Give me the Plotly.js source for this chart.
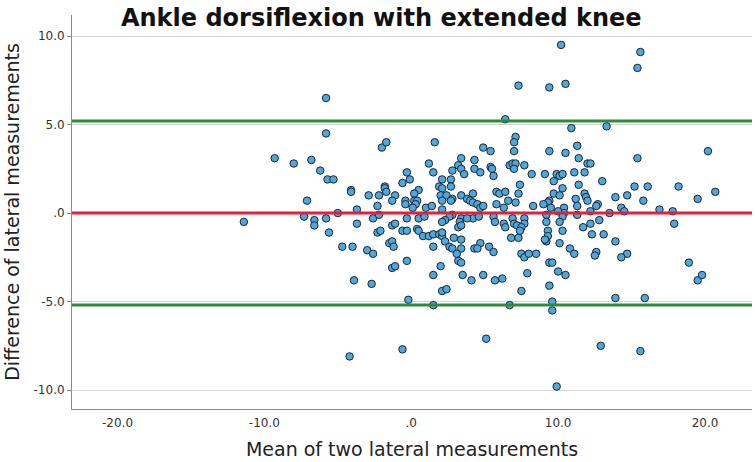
<!DOCTYPE html>
<html>
<head>
<meta charset="utf-8">
<script src="https://cdn.plot.ly/plotly-3.0.1.min.js"></script>
<style>html,body{margin:0;padding:0;background:#fff;}#chart{width:755px;height:462px;}</style>
</head>
<body>
<div id="chart"></div>
<script>
// Mean of two lateral measurements (x) and their difference (y)
const meanValues = [
-11.4,-9.3,-8.0,-6.8,-6.2,-5.7,-5.3,-7.1,-7.3,-6.6,-6.6,-5.8,-5.6,-5.0,-4.1,-4.1,-3.7,-3.7,-4.7,-4.0,
-3.0,-2.6,-3.9,-2.7,-2.9,-2.2,-2.3,-1.8,-1.8,-1.7,-1.1,-1.3,-0.6,-0.3,-0.1,-0.4,-0.4,-0.3,-2.6,-2.2,
-2.3,-2.1,-1.3,-1.1,-1.5,-1.3,-1.2,-0.6,-0.3,-0.3,-1.3,-1.1,-2.0,-5.8,-5.8,-1.7,-0.2,-4.2,-0.6,
10.2,7.3,9.4,10.5,6.4,10.9,7.1,7.0,1.6,4.9,5.4,7.0,9.4,10.5,11.3,3.4,4.3,15.6,15.4,13.3,11.4,15.4,20.2,
1.5,2.1,2.4,4.1,5.7,7.5,9.4,6.7,9.6,9.6,5.1,9.9,19.5,13.9,15.9,12.9,15.6,
12.0,12.2,11.1,11.8,13.0,11.4,11.8,11.9,11.2,12.0,11.3,12.7,12.6,13.9,14.7,15.2,16.1,15.8,18.2,19.5,
20.7,14.3,14.5,12.2,13.5,16.9,17.8,17.9,12.8,12.2,11.7,12.3,13.1,13.9,10.8,11.1,12.6,12.5,14.7,14.3,
18.9,19.8,
1.2,3.2,3.4,2.8,3.6,4.3,4.7,5.4,5.6,5.5,6.7,6.9,7.1,7.0,7.7,8.2,9.1,9.9,10.1,10.3,
9.7,1.5,2.1,2.7,1.9,2.1,2.7,7.4,10.3,0.5,0.2,2.0,2.4,2.8,3.4,4.2,5.8,6.0,6.4,7.3,
9.7,10.1,0.2,0.4,2.1,2.7,3.8,4.0,4.2,5.8,6.6,7.1,9.4,9.3,8.3,9.0,0.3,0.1,1.0,1.4,
2.1,4.5,4.7,4.9,6.3,9.5,10.4,10.4,10.0,9.2,10.3,11.3,2.8,2.6,4.2,4.6,5.6,3.4,3.8,0.5,
0.9,2.3,2.1,5.7,6.3,6.9,7.7,7.0,7.2,7.7,7.5,6.4,3.3,3.2,3.4,0.4,0.5,0.8,1.2,1.5,
1.9,2.1,2.1,2.3,2.9,3.4,4.7,4.3,4.5,5.3,5.6,2.6,2.8,3.4,3.1,1.5,6.8,7.3,7.4,9.2,
9.3,10.3,10.1,9.3,9.2,10.1,9.1,7.5,7.7,8.0,8.5,9.4,9.6,3.2,3.4,2.0,1.5,3.5,4.9,6.2,
7.9,10.0,10.5
];
const differenceValues = [
-0.5,3.1,2.8,3.0,2.4,1.9,1.9,0.7,-0.2,-0.4,-0.7,-0.3,-1.1,0.0,1.3,1.2,0.2,-0.6,-1.9,-1.9,
-2.1,-2.3,-3.8,-4.0,1.0,1.0,0.4,1.5,1.4,1.2,1.0,0.7,1.7,2.3,1.9,0.7,0.5,-0.3,-0.3,-0.1,
-1.1,-1.0,-0.7,-0.6,-1.7,-1.6,-1.9,-1.0,-1.0,-2.7,-3.1,-3.0,3.7,6.5,4.5,4.0,-4.9,-8.1,-7.7,
9.5,7.2,7.1,7.3,5.3,4.8,4.3,4.0,4.0,3.7,3.5,3.5,3.5,3.4,3.8,3.1,3.0,9.1,8.2,4.9,3.1,3.1,3.5,
-5.2,-4.4,-4.3,-3.8,-3.8,-4.4,-4.1,-5.2,-5.0,-5.5,-7.1,-9.8,-3.8,-4.8,-4.8,-7.5,-7.8,
2.8,2.8,2.3,2.3,1.8,1.6,1.1,0.9,0.8,0.7,0.4,0.5,0.4,0.9,1.0,1.5,1.5,0.7,1.5,0.8,
1.2,0.3,0.1,0.1,0.0,0.2,0.1,-0.6,-0.4,-0.6,-0.8,-1.2,-1.2,-1.6,-2.0,-2.3,-2.2,-2.4,-2.3,-2.5,
-2.8,-3.5,
2.8,2.7,2.5,2.4,2.2,2.5,2.3,2.6,2.1,2.5,2.7,2.8,2.8,2.5,2.7,2.2,2.2,2.2,2.1,2.2,
1.8,2.3,1.9,1.9,1.5,1.4,1.5,1.6,1.4,1.3,1.1,1.0,1.0,0.8,1.0,1.1,1.2,1.1,1.2,1.1,
1.1,1.0,0.7,0.7,0.7,0.7,0.8,0.7,0.6,0.5,0.7,0.6,0.7,0.6,0.4,0.5,0.5,0.3,0.3,0.4,
0.2,0.5,0.3,0.4,0.3,0.3,0.3,0.0,0.1,-0.1,-0.2,-0.1,-0.1,-0.2,-0.3,-0.2,-0.2,-0.3,-0.3,-0.3,
-0.2,-0.4,-0.5,-0.5,-0.6,-0.3,-0.3,-0.6,-0.7,-0.6,-0.8,-0.8,-0.5,-0.8,-0.7,-0.9,-1.0,-1.3,-1.3,-1.2,
-1.2,-1.3,-1.1,-1.6,-1.4,-1.5,-1.7,-2.0,-2.0,-1.9,-2.2,-1.9,-2.0,-2.0,-2.3,-1.9,-1.4,-1.4,-1.0,-0.5,
-1.0,-1.0,-0.5,-1.3,-1.6,-1.7,-1.5,-2.3,-2.5,-2.3,-2.3,-2.8,-2.8,-2.7,-2.8,-3.0,-3.5,-3.5,-3.5,-3.7,
-3.4,-3.3,-3.5
];
// Mean difference and limits of agreement
const meanDifference = 0.0;
const upperLimit = 5.2;
const lowerLimit = -5.2;
const xTickValues = [-20, -10, 0, 10, 20];
const xTickLabels = ["-20.0", "-10.0", ".0", "10.0", "20.0"];
const yTickValues = [-10, -5, 0, 5, 10];
const yTickLabels = ["-10.0", "-5.0", ".0", "5.0", "10.0"];

const font = "DejaVu Sans, Verdana, sans-serif";

const trace = {
  type: "scatter",
  mode: "markers",
  x: meanValues,
  y: differenceValues,
  marker: {size: 7.5, color: "#4ea8dd", line: {color: "#1c2530", width: 1}},
  hoverinfo: "x+y",
  showlegend: false
};

function hline(v, color) {
  return {type: "line", xref: "paper", x0: 0, x1: 1, yref: "y", y0: v, y1: v,
          line: {color: color, width: 3}, layer: "above"};
}

const layout = {
  width: 755, height: 462,
  paper_bgcolor: "#ffffff", plot_bgcolor: "#ffffff",
  margin: {l: 72, r: 3, t: 15, b: 53},
  font: {family: font, color: "#222"},
  title: {text: "<b>Ankle dorsiflexion with extended knee</b>", font: {family: font, size: 24, color: "#111"},
          x: 0.505, xref: "container", xanchor: "center", y: 0.962, yref: "container", yanchor: "middle"},
  xaxis: {
    range: [-23.1, 23.2], tickvals: xTickValues, ticktext: xTickLabels,
    showgrid: false, zeroline: false, showline: true, linecolor: "#8a8a8a", linewidth: 1,
    ticks: "outside", ticklen: 3, tickcolor: "rgba(0,0,0,0)",
    tickfont: {family: font, size: 12, color: "#333"},
    title: {text: "Mean of two lateral measurements", font: {family: font, size: 19, color: "#222"}, standoff: 13},
    automargin: false
  },
  yaxis: {
    range: [-11.07, 11.19], tickvals: yTickValues, ticktext: yTickLabels,
    showgrid: true, gridcolor: "#d4d4d4", gridwidth: 1, zeroline: false,
    showline: true, linecolor: "#8a8a8a", linewidth: 1,
    ticks: "outside", ticklen: 4, tickcolor: "#8a8a8a",
    tickfont: {family: font, size: 12, color: "#333"},
    title: {text: "Difference of lateral measurements", font: {family: font, size: 19, color: "#222"}, standoff: 8},
    automargin: false
  },
  shapes: [hline(upperLimit, "#2e8a3c"), hline(lowerLimit, "#2e8a3c"), hline(meanDifference, "#e0203c")]
};

Plotly.newPlot("chart", [trace], layout, {displayModeBar: false, staticPlot: true});
</script>
</body>
</html>
